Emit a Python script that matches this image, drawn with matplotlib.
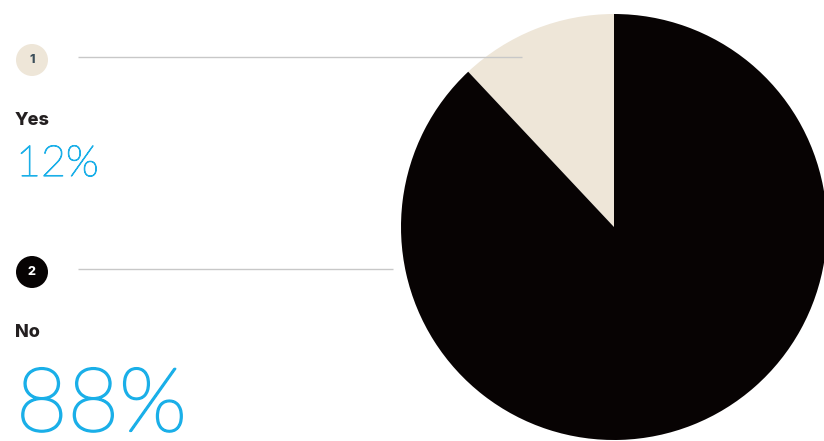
import matplotlib
matplotlib.use("Agg")
import matplotlib.pyplot as plt
import matplotlib.patheffects as pe
from matplotlib.patches import Circle

# Survey answers and their shares (percent)
answers = ["Yes", "No"]
shares = [12, 88]
badge_numbers = ["1", "2"]

W, H = 824, 441
fig = plt.figure(figsize=(W / 100, H / 100), dpi=100)
ax = fig.add_axes([0, 0, 1, 1])

slice_colors = ["#EEE6D8", "#070303"]
ax.pie(shares, colors=slice_colors, startangle=90, counterclock=True,
       center=(614, H - 227), radius=213, frame=True,
       wedgeprops=dict(linewidth=0))

ax.set_xlim(0, W)
ax.set_ylim(0, H)
ax.set_aspect("auto")
ax.axis("off")

def y(p):
    return H - p

blue = "#1AAFE8"
badge_face = ["#EEE6D8", "#070303"]
badge_text = ["#3D4F5A", "#FFFFFF"]
rows = [60, 272]           # badge centre rows
line_ends = [522, 393]
label_base = [125, 337]
pct_base = [176, 431]
pct_size = [31, 64]
pct_stroke = [0.8, 1.6]    # thickens the hairline face a little

for i, ans in enumerate(answers):
    r = rows[i]
    ax.add_patch(Circle((32, y(r)), 16, facecolor=badge_face[i],
                        edgecolor="none", zorder=5))
    ax.text(32, y(r), badge_numbers[i], ha="center", va="center",
            fontsize=9, fontweight=800, color=badge_text[i],
            family=["Inter", "Lato"], zorder=6)
    ax.plot([78, line_ends[i]], [y(r - 3), y(r - 3)], color="#C8C8C8",
            lw=1, zorder=7, solid_capstyle="butt")
    ax.text(15, y(label_base[i]), ans, ha="left", va="baseline",
            fontsize=13, fontweight=800, color="#231F20",
            family=["Inter", "Lato"])
    ax.text(16, y(pct_base[i]), f"{shares[i]}%", ha="left", va="baseline",
            fontsize=pct_size[i], fontweight=100, color=blue,
            family="Lato",
            path_effects=[pe.withStroke(linewidth=pct_stroke[i],
                                        foreground=blue)])

fig.savefig("out.png", dpi=100)
